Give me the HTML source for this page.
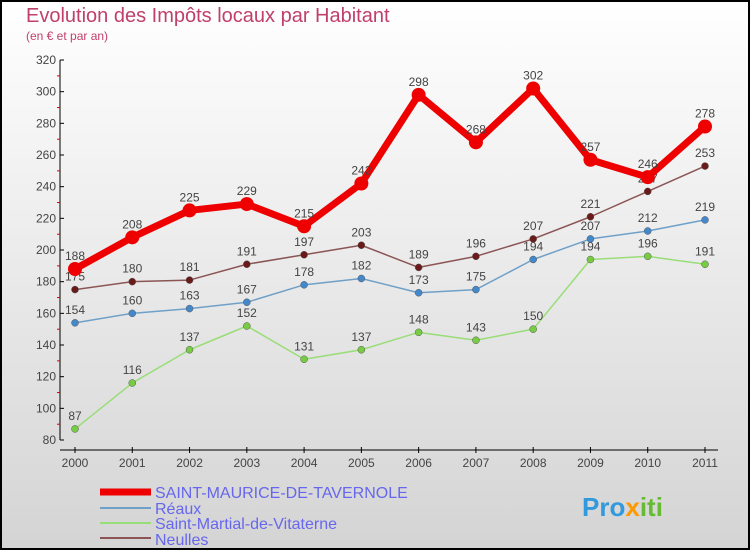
<!DOCTYPE html>
<html><head><meta charset="utf-8"><style>
body{margin:0}
svg text{font-family:"Liberation Sans","DejaVu Sans",sans-serif}
</style></head><body>
<svg width="750" height="550" xmlns="http://www.w3.org/2000/svg" id="c">
<defs><linearGradient id="bg" x1="0" y1="0" x2="0" y2="1"><stop offset="0" stop-color="#ffffff"/><stop offset="1" stop-color="#d4d4d4"/></linearGradient></defs>
<rect x="1" y="1" width="748" height="548" fill="url(#bg)" stroke="#000" stroke-width="2"/>
<text x="26" y="22" font-size="20" fill="#c0406a">Evolution des Impôts locaux par Habitant</text>
<text x="26" y="40" font-size="12" fill="#c0406a">(en € et par an)</text>
<g id="axes"></g><g id="series"></g>
<g>
<line x1="100" y1="492" x2="151" y2="492" stroke="#ee0000" stroke-width="7"/>
<text x="155" y="498" font-size="16" fill="#6666ee">SAINT-MAURICE-DE-TAVERNOLE</text>
<line x1="100" y1="508" x2="151" y2="508" stroke="#6fa0c8" stroke-width="2"/>
<text x="155" y="514" font-size="16" fill="#6666ee">Réaux</text>
<line x1="100" y1="523" x2="151" y2="523" stroke="#99dd77" stroke-width="2"/>
<text x="155" y="529" font-size="16" fill="#6666ee">Saint-Martial-de-Vitaterne</text>
<line x1="100" y1="538" x2="151" y2="538" stroke="#8b5555" stroke-width="2"/>
<text x="155" y="545" font-size="16" fill="#6666ee">Neulles</text>
</g>
<text x="582" y="516" font-size="26" font-weight="bold" fill="#3399dd">Pro<tspan fill="#ff9900">x</tspan><tspan fill="#66bb33">iti</tspan></text>
</svg>
<script>
const years=[2000,2001,2002,2003,2004,2005,2006,2007,2008,2009,2010,2011];
const yTicks=[80,100,120,140,160,180,200,220,240,260,280,300,320];
const stMaurice=[188,208,225,229,215,242,298,268,302,257,246,278];
const reaux=[154,160,163,167,178,182,173,175,194,207,212,219];
const stMartial=[87,116,137,152,131,137,148,143,150,194,196,191];
const neulles=[175,180,181,191,197,203,189,196,207,221,237,253];
const NS="http://www.w3.org/2000/svg";
function xs(i){return 75+i*(705-75)/(years.length-1);}
function ys(v){return 440-(v-80)*(380/240);}
function mk(t,a,p){const e=document.createElementNS(NS,t);for(const k in a)e.setAttribute(k,a[k]);p.appendChild(e);return e;}
const ax=document.getElementById('axes');
let e=mk('line',{x1:60,y1:60,x2:60,y2:440,stroke:'#000','stroke-width':1},ax);

e=mk('line',{x1:60,y1:450,x2:718,y2:450,stroke:'#000','stroke-width':1},ax);

yTicks.forEach((v,i)=>{const y=ys(v);mk('line',{x1:60,y1:y,x2:64,y2:y,stroke:'#000'},ax);
 if(i<yTicks.length-1)mk('line',{x1:57,y1:y-15.8,x2:60,y2:y-15.8,stroke:'#d00'},ax);
 const t=mk('text',{x:56,y:y+4,'font-size':12,'text-anchor':'end',fill:'#444'},ax);t.textContent=v;
 });
years.forEach((yr,i)=>{const x=xs(i);mk('line',{x1:x,y1:447,x2:x,y2:453,stroke:'#000'},ax);
 const t=mk('text',{x:x,y:467,'font-size':12,'text-anchor':'middle',fill:'#444'},ax);t.textContent=yr;
 });
const sg=document.getElementById('series');
function draw(name,d,col,dot,w,r){const g=mk('g',{},sg);
 
 mk('polyline',{points:d.map((v,i)=>xs(i)+','+ys(v)).join(' '),fill:'none',stroke:col,'stroke-width':w,'stroke-linejoin':'round'},g);
 d.forEach((v,i)=>{const c=mk('circle',{cx:xs(i),cy:ys(v),r:r,fill:dot,stroke:w>3?dot:'#555','stroke-width':w>3?0:0.5},g);
  
  const t=mk('text',{x:xs(i),y:ys(v)-9,'font-size':12,'text-anchor':'middle',fill:'#444'},g);t.textContent=v;
  });}
draw('series-saint-martial',stMartial,'#99dd77','#77cc44',1.5,3.5);
draw('series-reaux',reaux,'#6fa0c8','#4488cc',1.5,3.5);
draw('series-neulles',neulles,'#8b5555','#6b1a1a',1.5,3.5);
draw('series-saint-maurice',stMaurice,'#ee0000','#ee0000',7,7);
</script>
</body></html>
